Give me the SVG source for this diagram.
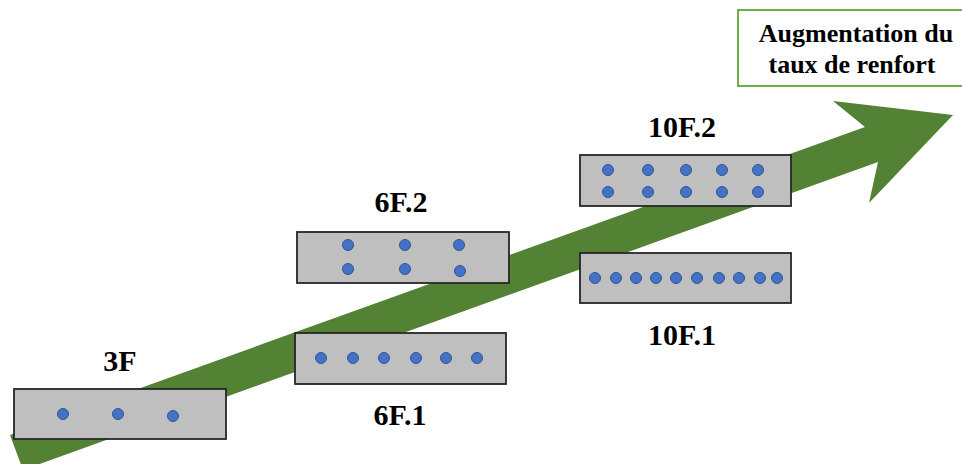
<svg xmlns="http://www.w3.org/2000/svg" width="962" height="464" viewBox="0 0 962 464">
<style>
.box{fill:#BFBFBF;stroke:#262626;stroke-width:1.8}
.dot{fill:#4472C4;stroke:#2F5597;stroke-width:1}
.lbl{font-family:"Liberation Serif","Times New Roman",serif;font-weight:bold;font-size:30px;fill:#000;text-anchor:middle}
.note{font-family:"Liberation Serif","Times New Roman",serif;font-weight:bold;font-size:26px;fill:#000;text-anchor:middle}
</style>
<rect width="962" height="464" fill="#fff"/>
<g id="connectors">
<polygon fill="#548235" points="10,435 865,127 833,101 953,115 869,203 878,162 23,470"/>
</g>
<g id="note">
<rect x="738" y="10" width="240" height="76" fill="#fff" stroke="#70AD47" stroke-width="2"/>
<text class="note" x="856" y="42">Augmentation du</text>
<text class="note" x="852" y="73">taux de renfort</text>
</g>
<g id="n3F">
<rect class="box" x="14" y="389" width="212" height="50"/>
<circle class="dot" cx="63" cy="414" r="5.5"/>
<circle class="dot" cx="118" cy="414" r="5.5"/>
<circle class="dot" cx="173" cy="416" r="5.5"/>
<text class="lbl" x="120" y="371">3F</text>
</g>
<g id="n6F2">
<rect class="box" x="297" y="232" width="212" height="51"/>
<circle class="dot" cx="348" cy="245" r="5.5"/>
<circle class="dot" cx="405" cy="245" r="5.5"/>
<circle class="dot" cx="459" cy="245" r="5.5"/>
<circle class="dot" cx="348" cy="269" r="5.5"/>
<circle class="dot" cx="405" cy="269" r="5.5"/>
<circle class="dot" cx="460" cy="271" r="5.5"/>
<text class="lbl" x="401" y="212">6F.2</text>
</g>
<g id="n6F1">
<rect class="box" x="295" y="333" width="211" height="51"/>
<circle class="dot" cx="321" cy="358" r="5.5"/>
<circle class="dot" cx="353" cy="358" r="5.5"/>
<circle class="dot" cx="384" cy="358" r="5.5"/>
<circle class="dot" cx="416" cy="358" r="5.5"/>
<circle class="dot" cx="446" cy="358" r="5.5"/>
<circle class="dot" cx="477" cy="358" r="5.5"/>
<text class="lbl" x="400" y="425">6F.1</text>
</g>
<g id="n10F2">
<rect class="box" x="580" y="155" width="211" height="51"/>
<circle class="dot" cx="608" cy="170" r="5.5"/>
<circle class="dot" cx="648" cy="170" r="5.5"/>
<circle class="dot" cx="686" cy="170" r="5.5"/>
<circle class="dot" cx="722" cy="170" r="5.5"/>
<circle class="dot" cx="758" cy="170" r="5.5"/>
<circle class="dot" cx="608" cy="192" r="5.5"/>
<circle class="dot" cx="648" cy="192" r="5.5"/>
<circle class="dot" cx="686" cy="192" r="5.5"/>
<circle class="dot" cx="722" cy="192" r="5.5"/>
<circle class="dot" cx="758" cy="192" r="5.5"/>
<text class="lbl" x="682" y="137">10F.2</text>
</g>
<g id="n10F1">
<rect class="box" x="580" y="253" width="211" height="50"/>
<circle class="dot" cx="595" cy="278" r="5.5"/>
<circle class="dot" cx="616" cy="278" r="5.5"/>
<circle class="dot" cx="636" cy="278" r="5.5"/>
<circle class="dot" cx="656" cy="278" r="5.5"/>
<circle class="dot" cx="676" cy="278" r="5.5"/>
<circle class="dot" cx="697" cy="278" r="5.5"/>
<circle class="dot" cx="719" cy="278" r="5.5"/>
<circle class="dot" cx="739" cy="278" r="5.5"/>
<circle class="dot" cx="760" cy="278" r="5.5"/>
<circle class="dot" cx="777" cy="278" r="5.5"/>
<text class="lbl" x="682" y="345">10F.1</text>
</g>
</svg>
